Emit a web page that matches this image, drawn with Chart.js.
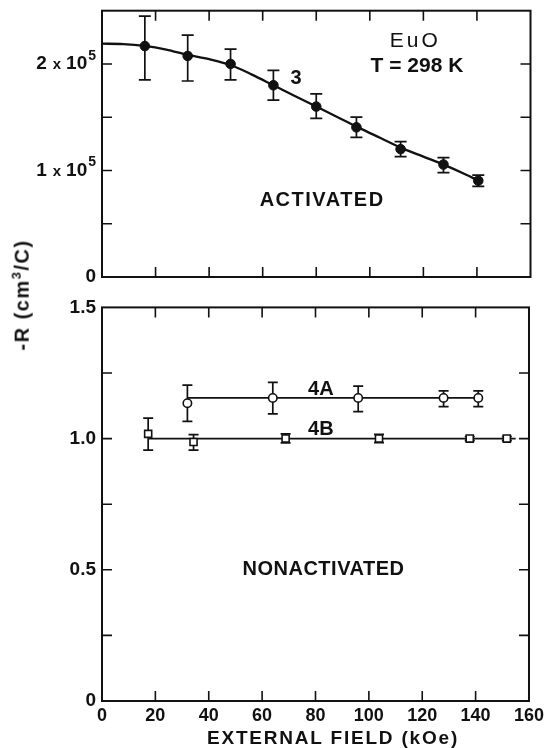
<!DOCTYPE html>
<html>
<head>
<meta charset="utf-8">
<script src="https://cdn.jsdelivr.net/npm/chart.js@4.4.1/dist/chart.umd.min.js"></script>
<style>
  html, body { margin: 0; padding: 0; background: #fff; }
  #wrap { position: relative; width: 548px; height: 748px; overflow: hidden; }
  #topBox { position: absolute; left: 0; top: 0; width: 548px; height: 290px; }
  #bottomBox { position: absolute; left: 0; top: 290px; width: 548px; height: 458px; }
  .lab { position: absolute; font-family: 'Liberation Sans', Arial, sans-serif; font-weight: bold; color: #111; white-space: nowrap; }
  #ylab { left: 21px; top: 295px; font-size: 20px; letter-spacing: 1.5px; transform: translate(-50%, -50%) rotate(-90deg); }
  #ylab sup { font-size: 13px; }
  #xlab { left: 333px; top: 738px; font-size: 19px; letter-spacing: 1.8px; transform: translate(-50%, -50%); }
</style>
</head>
<body>
<div id="wrap">
  <div id="topBox"><canvas id="topChart"></canvas></div>
  <div id="bottomBox"><canvas id="bottomChart"></canvas></div>
  <div class="lab" id="ylab">-R (cm<sup>3</sup>/C)</div>
  <div class="lab" id="xlab">EXTERNAL FIELD (kOe)</div>
</div>
<script>
// sample 3, activated
var field3 = [16, 32, 48, 64, 80, 95, 111.5, 127.5, 140.5];
var r3 = [2.168e5, 2.075e5, 2.0e5, 1.80e5, 1.60e5, 1.405e5, 1.20e5, 1.056e5, 0.904e5];
var r3Hi = [2.45e5, 2.27e5, 2.14e5, 1.94e5, 1.72e5, 1.50e5, 1.27e5, 1.12e5, 0.956e5];
var r3Lo = [1.85e5, 1.84e5, 1.85e5, 1.66e5, 1.49e5, 1.31e5, 1.13e5, 0.98e5, 0.85e5];
var curveField = [0, 8, 16, 24, 32, 40, 48, 56, 64, 72, 80, 88, 96, 104, 112, 120, 128, 136, 140.5];
var curveR = [2.19e5, 2.187e5, 2.17e5, 2.135e5, 2.085e5, 2.045e5, 1.99e5, 1.90e5, 1.80e5, 1.70e5, 1.60e5, 1.50e5, 1.40e5, 1.305e5, 1.21e5, 1.13e5, 1.05e5, 0.96e5, 0.905e5];

// samples 4A and 4B, nonactivated
var field4A = [32, 64, 96, 128, 141];
var r4A = [1.135, 1.155, 1.155, 1.155, 1.155];
var r4AHi = [1.204, 1.214, 1.200, 1.182, 1.182];
var r4ALo = [1.066, 1.094, 1.103, 1.122, 1.122];
var fit4AField = [32, 141];
var fit4AR = [1.155, 1.155];

var field4B = [17.3, 34.3, 68.8, 103.8, 137.8, 151.7];
var r4B = [1.018, 0.987, 1.0, 1.0, 1.0, 1.0];
var r4BHi = [1.078, 1.015, 1.018, 1.016, 1.008, 1.008];
var r4BLo = [0.956, 0.956, 0.984, 0.985, 0.992, 0.992];
var fit4BField = [17.3, 155];
var fit4BR = [1.0, 1.0];

var topTicks = [0, 1e5, 2e5];
var bottomTicks = [0, 0.5, 1.0, 1.5];

var INK = '#111';
var FONT = "'Liberation Sans', Arial, sans-serif";

function pts(xs, ys) {
    var out = [];
    for (var i = 0; i < xs.length; i++) out.push({ x: xs[i], y: ys[i] });
    return out;
}

// vertical error bars with caps, under the markers
var errorBars = {
    id: 'errorBars',
    beforeDatasetsDraw: function (chart) {
        var ctx = chart.ctx, ys = chart.scales.y;
        chart.data.datasets.forEach(function (ds, i) {
            if (!ds.errHi) return;
            var meta = chart.getDatasetMeta(i);
            var cap = ds.capWidth || 5;
            ctx.save();
            ctx.strokeStyle = INK;
            ctx.lineWidth = 1.7;
            meta.data.forEach(function (p, j) {
                var yh = ys.getPixelForValue(ds.errHi[j]);
                var yl = ys.getPixelForValue(ds.errLo[j]);
                ctx.beginPath();
                ctx.moveTo(p.x, yh); ctx.lineTo(p.x, yl);
                ctx.moveTo(p.x - cap, yh); ctx.lineTo(p.x + cap, yh);
                ctx.moveTo(p.x - cap, yl); ctx.lineTo(p.x + cap, yl);
                ctx.stroke();
            });
            ctx.restore();
        });
    }
};

// box round the plot with inward tick marks on all four sides
var frame = {
    id: 'frame',
    afterDraw: function (chart, args, opts) {
        var ctx = chart.ctx, a = chart.chartArea;
        var xs = chart.scales.x, ys = chart.scales.y;
        var len = 10, v;
        ctx.save();
        ctx.strokeStyle = INK;
        ctx.lineWidth = 2;
        ctx.strokeRect(a.left, a.top, a.right - a.left, a.bottom - a.top);
        ctx.lineWidth = 1.6;
        ctx.beginPath();
        for (v = xs.min + opts.xStep; v < xs.max - 1e-9; v += opts.xStep) {
            var px = xs.getPixelForValue(v);
            ctx.moveTo(px, a.top); ctx.lineTo(px, a.top + len);
            ctx.moveTo(px, a.bottom); ctx.lineTo(px, a.bottom - len);
        }
        for (v = ys.min + opts.yStep; v < ys.max - 1e-9; v += opts.yStep) {
            var py = ys.getPixelForValue(v);
            ctx.moveTo(a.left, py); ctx.lineTo(a.left + len, py);
            ctx.moveTo(a.right, py); ctx.lineTo(a.right - len, py);
        }
        ctx.stroke();
        ctx.restore();
    }
};

// free text placed in data coordinates
var notes = {
    id: 'notes',
    afterDraw: function (chart, args, opts) {
        var ctx = chart.ctx, xs = chart.scales.x, ys = chart.scales.y;
        ctx.save();
        ctx.fillStyle = INK;
        ctx.textAlign = 'center';
        ctx.textBaseline = 'middle';
        (opts.items || []).forEach(function (n) {
            ctx.font = n.font;
            ctx.letterSpacing = n.spacing || '0px';
            ctx.fillText(n.text, xs.getPixelForValue(n.x), ys.getPixelForValue(n.y));
        });
        ctx.restore();
    }
};

// "n x 10^5" tick labels for the activated panel
var powerTicks = {
    id: 'powerTicks',
    afterDraw: function (chart, args, opts) {
        if (!opts.values) return;
        var ctx = chart.ctx, ys = chart.scales.y, a = chart.chartArea;
        ctx.save();
        ctx.fillStyle = INK;
        ctx.textAlign = 'right';
        ctx.textBaseline = 'middle';
        opts.values.forEach(function (v) {
            var y = ys.getPixelForValue(v);
            var right = a.left - 6;
            if (v === 0) {
                ctx.font = 'bold 19px ' + FONT;
                ctx.fillText('0', right, y);
                return;
            }
            ctx.font = 'bold 14px ' + FONT;
            var w = ctx.measureText('5').width;
            ctx.fillText('5', right, y - 8);
            ctx.font = 'bold 19px ' + FONT;
            var w10 = ctx.measureText('10').width;
            ctx.fillText('10', right - w - 1, y);
            ctx.font = 'bold 15px ' + FONT;
            var wx = ctx.measureText('x').width;
            var xRight = right - w - w10 - 6;
            ctx.fillText('x', xRight, y + 1);
            ctx.font = 'bold 19px ' + FONT;
            ctx.fillText(String(v / 1e5), xRight - wx - 6, y);
        });
        ctx.restore();
    }
};

var topChart = new Chart(document.getElementById('topChart'), {
    type: 'scatter',
    data: {
        datasets: [
            {
                data: pts(field3, r3),
                errHi: r3Hi, errLo: r3Lo, capWidth: 6,
                pointRadius: 4.8,
                pointBackgroundColor: INK,
                pointBorderColor: INK,
                pointBorderWidth: 1
            },
            {
                data: pts(curveField, curveR),
                showLine: true,
                pointRadius: 0,
                borderColor: INK,
                borderWidth: 2.3,
                cubicInterpolationMode: 'monotone'
            }
        ]
    },
    options: {
        responsive: true,
        maintainAspectRatio: false,
        animation: false,
        events: [],
        layout: { padding: { left: 102, top: 10.7, right: 17.5, bottom: 13 } },
        scales: {
            x: { type: 'linear', display: false, min: 0, max: 160 },
            y: { type: 'linear', display: false, min: 0, max: 2.5e5 }
        },
        plugins: {
            legend: { display: false },
            tooltip: { enabled: false },
            frame: { xStep: 20, yStep: 0.5e5 },
            powerTicks: { values: topTicks },
            notes: {
                items: [
                    { text: 'EuO', x: 117, y: 2.217e5, font: '21px ' + FONT, spacing: '3px' },
                    { text: 'T = 298 K', x: 117.6, y: 1.983e5, font: 'bold 21px ' + FONT },
                    { text: '3', x: 72.5, y: 1.86e5, font: 'bold 20px ' + FONT },
                    { text: 'ACTIVATED', x: 82.2, y: 0.72e5, font: 'bold 20px ' + FONT, spacing: '1.5px' }
                ]
            }
        }
    },
    plugins: [errorBars, frame, notes, powerTicks]
});

var bottomChart = new Chart(document.getElementById('bottomChart'), {
    type: 'scatter',
    data: {
        datasets: [
            {
                data: pts(field4A, r4A),
                errHi: r4AHi, errLo: r4ALo, capWidth: 5,
                pointStyle: 'circle',
                pointRadius: 4.2,
                pointBackgroundColor: '#fff',
                pointBorderColor: INK,
                pointBorderWidth: 1.6
            },
            {
                data: pts(field4B, r4B),
                errHi: r4BHi, errLo: r4BLo, capWidth: 5,
                pointStyle: 'rect',
                pointRadius: 5,
                pointBackgroundColor: '#fff',
                pointBorderColor: INK,
                pointBorderWidth: 1.6
            },
            {
                data: pts(fit4AField, fit4AR),
                showLine: true,
                pointRadius: 0,
                borderColor: INK,
                borderWidth: 1.8
            },
            {
                data: pts(fit4BField, fit4BR),
                showLine: true,
                pointRadius: 0,
                borderColor: INK,
                borderWidth: 1.8
            }
        ]
    },
    options: {
        responsive: true,
        maintainAspectRatio: false,
        animation: false,
        events: [],
        layout: { padding: { left: 0, top: 13, right: 17.5, bottom: 0 } },
        scales: {
            x: {
                type: 'linear', min: 0, max: 160,
                grid: { display: false, drawTicks: false },
                border: { display: false },
                ticks: { stepSize: 20, padding: 4, maxRotation: 0, autoSkip: false, color: INK, font: { family: FONT, size: 18, weight: 'bold' } },
                afterFit: function (s) { s.height = 47; }
            },
            y: {
                type: 'linear', min: 0, max: 1.5,
                afterBuildTicks: function (s) { s.ticks = bottomTicks.map(function (v) { return { value: v }; }); },
                grid: { display: false, drawTicks: false },
                border: { display: false },
                ticks: {
                    padding: 6, color: INK, font: { family: FONT, size: 19, weight: 'bold' },
                    callback: function (v) { return v === 0 ? '0' : v.toFixed(1); }
                },
                afterFit: function (s) { s.width = 102; }
            }
        },
        plugins: {
            legend: { display: false },
            tooltip: { enabled: false },
            frame: { xStep: 20, yStep: 0.25 },
            notes: {
                items: [
                    { text: '4A', x: 82, y: 1.186, font: 'bold 20px ' + FONT },
                    { text: '4B', x: 82, y: 1.035, font: 'bold 20px ' + FONT },
                    { text: 'NONACTIVATED', x: 83, y: 0.5, font: 'bold 20px ' + FONT, spacing: '0.5px' }
                ]
            }
        }
    },
    plugins: [errorBars, frame, notes]
});
</script>
</body>
</html>
